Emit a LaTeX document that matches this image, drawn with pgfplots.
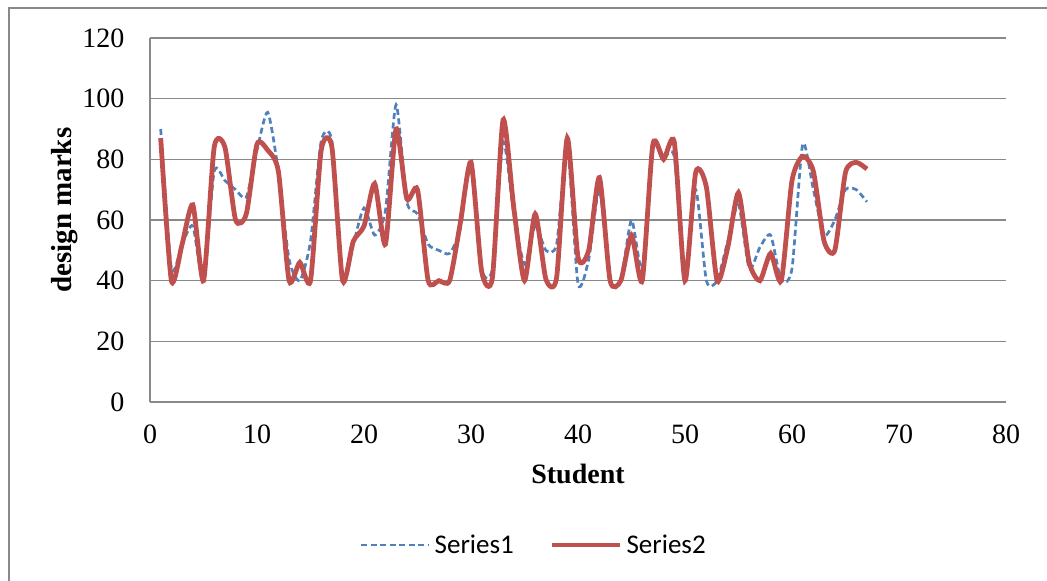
\documentclass[border=0pt]{standalone}
\usepackage{pgfplots}
\pgfplotsset{compat=1.18}
\usepackage{pgfplotstable}
\usepackage{fontspec}
\setmainfont{Liberation Serif}
\newfontfamily\calibri{Carlito}
\definecolor{sblue}{HTML}{4F81BD}
\definecolor{sred}{HTML}{C0504D}
\definecolor{gridgray}{HTML}{898989}

\pgfplotstableread{
x y
1 90
2 44
3 52
4 58
5 40
6 76
7 73
8 70
9 67.5
10 83
11 95.5
12 76
13 47
14 40
15 53
16 86
17 86
18 40
19 52
20 64
21 55
22 63
23 98
24 66
25 62
26 52
27 50
28 49
29 57
30 80
31 44
32 44
33 85.6
34 62
35 45.5
36 58
37 50
38 52
39 84
40 39
41 47
42 70
43 40
44 40
45 60
46 44
47 85.6
48 80.7
49 80.7
50 40
51 70
52 40
53 40
54 53
55 65
56 44
57 51
58 55
59 40
60 44
61 85
62 70
63 55
64 60
65 70
66 70
67 66
}\seriesone

\pgfplotstableread{
x y
1 87
2 40
3 52
4 65
5 40
6 84
7 84
8 60
9 62
10 85
11 83
12 76
13 40
14 46
15 40
16 83
17 84
18 40
19 53
20 58
21 72
22 52
23 90
24 67
25 70
26 40
27 40
28 40
29 59
30 79
31 43
32 41
33 93
34 64
35 40
36 62
37 40.5
38 41
39 87
40 47.7
41 50
42 74
43 40
44 40
45 55
46 40
47 85
48 80
49 85.6
50 40
51 75.7
52 70.8
53 40
54 51
55 69
56 46
57 40
58 49
59 40
60 73
61 81
62 76
63 53
64 50
65 75.7
66 79
67 76.8
}\seriestwo

\begin{document}
\begin{tikzpicture}
\useasboundingbox (0,0) rectangle (1047bp,581bp);
\draw[gridgray, line width=1.2bp] (9bp,0bp) -- (9bp,573bp) -- (1047bp,573bp);
\begin{axis}[
  at={(150bp,179bp)}, anchor=south west,
  scale only axis, width=856bp, height=364bp,
  xmin=0, xmax=80, ymin=0, ymax=120,
  xtick={0,10,...,80}, ytick={0,20,...,120},
  axis x line*=bottom, axis y line*=left,
  axis line style={gridgray, line width=1.4bp},
  ymajorgrids, grid style={gridgray, line width=1.6bp},
  major tick length=0pt,
  /pgf/number format/assume math mode=true,
  tick label style={font=\fontsize{28bp}{32bp}\selectfont},
  yticklabel style={xshift=-22bp},
  xticklabel style={yshift=-19bp},
  xlabel={Student},
  ylabel={design marks},
  every axis x label/.style={at={(axis description cs:0.5,-0.198)},anchor=center,
    font=\bfseries\fontsize{28bp}{32bp}\selectfont},
  every axis y label/.style={at={(axis description cs:-0.100,0.527)},rotate=90,anchor=center,
    font=\bfseries\fontsize{29bp}{32bp}\selectfont},
  legend style={at={(axis description cs:0.2453,-0.393)}, anchor=west, draw=none, fill=none,
    inner sep=0pt, outer sep=0pt, legend columns=2,
    font=\calibri\fontsize{27bp}{32bp}\selectfont,
    /tikz/every even column/.append style={column sep=32bp},
    nodes={inner sep=4bp, anchor=west}},
  legend image code/.code={\draw[#1] (0bp,0bp) -- (68bp,0bp);},
]
\addplot[sblue, line width=2.7bp, dash pattern=on 6bp off 3.5bp, smooth, tension=0.4, no markers] table[x=x,y=y] {\seriesone};
\addlegendentry{Series1}
\addplot[sred, line width=4.8bp, smooth, tension=0.4, no markers] table[x=x,y=y] {\seriestwo};
\addlegendentry{Series2}
\end{axis}
\end{tikzpicture}
\end{document}
